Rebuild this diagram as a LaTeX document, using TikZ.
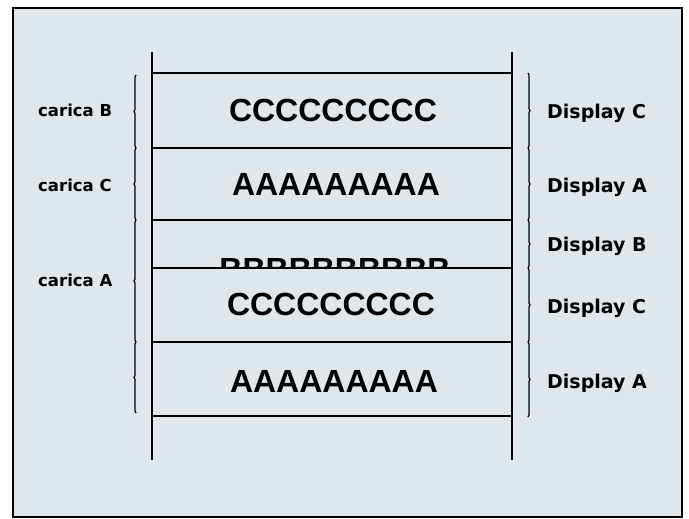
\documentclass[tikz,border=0pt]{standalone}
\usepackage{fontspec}
\setmainfont{Liberation Sans}
\newfontfamily\labfont{DejaVu Sans}
\usetikzlibrary{decorations.pathreplacing}
\definecolor{paper}{RGB}{223,230,236}
\tikzset{
  big/.style={font=\bfseries\fontsize{32}{32}\selectfont, inner sep=0pt, anchor=base},
  lab/.style={font=\labfont\bfseries\fontsize{16.5}{16.5}\selectfont, inner sep=0pt, anchor=base west},
  disp/.style={font=\labfont\bfseries\fontsize{19}{19}\selectfont, inner sep=0pt, anchor=base west},
  rule/.style={line width=1.4pt},
  frame/.style={line width=2pt, fill=paper},
  brc/.style={decorate, decoration={brace, amplitude=2pt}, line width=1.2pt},
}
\begin{document}
\begin{tikzpicture}[x=1pt,y=-1pt]
\useasboundingbox (0,0) rectangle (689,519);
\draw[frame] (13,8) rectangle (682,517);
% vertical rails
\coordinate (vt1) at (152,52); \coordinate (vb1) at (152,460);
\coordinate (vt2) at (512,52); \coordinate (vb2) at (512,460);
\draw[rule] (vt1) -- (vb1);
\draw[rule] (vt2) -- (vb2);
% horizontal separators
\foreach \i/\y in {1/73,2/148,3/220,4/268,5/342,6/416}{
  \coordinate (hl\i) at (152,\y); \coordinate (hr\i) at (512,\y);
}
% B row (partly hidden)
\begin{scope}
  \clip (152,220) rectangle (512,268);
  \node[big] (rowB) at (335,280) {BBBBBBBBBB};
\end{scope}
\foreach \i in {1,...,6}{ \draw[rule] (hl\i) -- (hr\i); }
% big letters
\node[big] (row1) at (333,121.5) {CCCCCCCCC};
\node[big] (row2) at (336,195) {AAAAAAAAA};
\node[big] (row4) at (331,315) {CCCCCCCCC};
\node[big] (row5) at (334,392) {AAAAAAAAA};
% left labels
\node[lab] (cB) at (38,117) {carica B};
\node[lab] (cC) at (38,191) {carica C};
\node[lab] (cA) at (38,286) {carica A};
% right labels
\node[disp] (d1) at (547,118) {Display C};
\node[disp] (d2) at (547,192) {Display A};
\node[disp] (d3) at (547,251) {Display B};
\node[disp] (d4) at (547,313) {Display C};
\node[disp] (d5) at (547,388) {Display A};
% right braces
\foreach \i/\y in {0/73,1/148,2/220,3/268,4/342,5/417}{ \coordinate (rb\i) at (528,\y); }
\draw[brc] (rb0) -- (rb1);
\draw[brc] (rb1) -- (rb2);
\draw[brc] (rb2) -- (rb3);
\draw[brc] (rb3) -- (rb4);
\draw[brc] (rb4) -- (rb5);
% left braces
\foreach \i/\y in {0/75,1/148,2/220,3/342,4/413}{ \coordinate (lb\i) at (136,\y); }
\draw[brc] (lb1) -- (lb0);
\draw[brc] (lb2) -- (lb1);
\draw[brc] (lb3) -- (lb2);
\draw[brc] (lb4) -- (lb3);
\end{tikzpicture}
\end{document}
